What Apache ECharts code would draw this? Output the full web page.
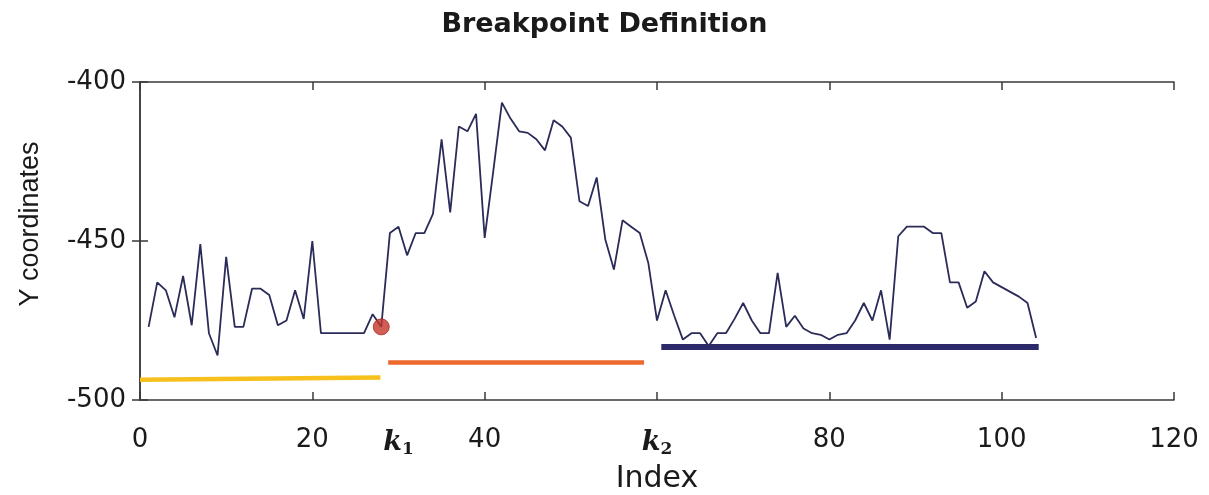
<!DOCTYPE html>
<html style="height: 100%">
<head>
    <meta charset="UTF-8">
    <script src="https://cdn.jsdelivr.net/npm/echarts/dist/echarts.min.js"></script>
    <style type="text/css">
        html, body { margin: 0; padding: 0; background: #ffffff; }
    </style>
</head>
<body>
    <div id="paint" style="width: 1209px; height: 495px;"></div>
<script>
    // index along the track
    var indexValues = [1, 2, 3, 4, 5, 6, 7, 8, 9, 10, 11, 12, 13, 14, 15, 16, 17, 18, 19, 20,
        21, 22, 23, 24, 25, 26, 27, 28, 29, 30, 31, 32, 33, 34, 35, 36, 37, 38, 39, 40,
        41, 42, 43, 44, 45, 46, 47, 48, 49, 50, 51, 52, 53, 54, 55, 56, 57, 58, 59, 60,
        61, 62, 63, 64, 65, 66, 67, 68, 69, 70, 71, 72, 73, 74, 75, 76, 77, 78, 79, 80,
        81, 82, 83, 84, 85, 86, 87, 88, 89, 90, 91, 92, 93, 94, 95, 96, 97, 98, 99, 100,
        101, 102, 103, 104];
    // y coordinates
    var yCoords = [-477, -463, -465.5, -474, -461, -476.5, -451, -479, -486, -455,
        -477, -477, -465, -465, -467, -476.5, -475, -465.5, -474.5, -450,
        -479, -479, -479, -479, -479, -479, -473, -477, -447.5, -445.5,
        -454.5, -447.5, -447.5, -441.5, -418, -441, -414, -415.5, -410, -449,
        -428, -406.5, -411.5, -415.5, -416, -418, -421.5, -412, -414, -417.5,
        -437.5, -439, -430, -449.5, -459, -443.5, -445.5, -447.5, -457, -475,
        -465.5, -473.5, -481, -479, -479, -483, -479, -479, -474.5, -469.5,
        -475, -479, -479, -460, -477, -473.5, -477.5, -479, -479.5, -481,
        -479.5, -479, -475, -469.5, -475, -465.5, -481, -448.5, -445.5, -445.5,
        -445.5, -447.5, -447.5, -463, -463, -471, -469, -459.5, -463, -464.5,
        -466, -467.5, -469.5, -480.5];

    // breakpoint k1
    var breakPoint = [28, -477];
    // segment levels [x, y] start / end
    var segYellow = [[0, -493.6], [27.9, -492.9]];
    var segOrange = [[28.8, -488.2], [58.5, -488.2]];
    var segNavy = [[60.5, -483.3], [104.3, -483.3]];

    var xTicks = {min: 0, max: 120, interval: 20};
    var yTicks = {min: -500, max: -400, interval: 50};
    var k1At = 30, k2At = 60;

    var lineData = indexValues.map(function (x, i) { return [x, yCoords[i]]; });

    var kRich = {
        k: {fontFamily: 'DejaVu Serif', fontStyle: 'italic', fontWeight: 'bold', fontSize: 27, color: '#1a1a1a'},
        s: {fontFamily: 'DejaVu Serif', fontWeight: 'bold', fontSize: 17, color: '#1a1a1a', padding: [14, 0, 0, 0]}
    };
    var axisColor = '#3a3a3a';
    var labelStyle = {fontFamily: 'DejaVu Sans', fontSize: 26, color: '#1a1a1a'};

    var chart = echarts.init(document.getElementById('paint'));
    chart.setOption({
        backgroundColor: '#ffffff',
        animation: false,
        title: {
            text: 'Breakpoint Definition',
            left: 'center',
            top: 6,
            textStyle: {fontFamily: 'DejaVu Sans', fontSize: 27, fontWeight: 'bold', color: '#1a1a1a'}
        },
        grid: {left: 140, right: 35, top: 82, bottom: 95, containLabel: false, outerBoundsMode: 'none'},
        xAxis: [
            {
                type: 'value', position: 'bottom',
                min: xTicks.min, max: xTicks.max, interval: xTicks.interval,
                name: 'Index', nameLocation: 'middle', nameGap: 64,
                nameTextStyle: {fontFamily: 'DejaVu Sans', fontSize: 30, color: '#1a1a1a'},
                axisLine: {lineStyle: {color: axisColor, width: 1.5}},
                axisTick: {inside: true, length: 8, lineStyle: {color: axisColor, width: 1.5}},
                splitLine: {show: false},
                axisLabel: Object.assign({
                    margin: 27,
                    rich: kRich,
                    formatter: function (v) {
                        if (v === k2At) return '{k|k}{s|2}';
                        return v;
                    }
                }, labelStyle)
            },
            {
                type: 'value', position: 'top',
                min: xTicks.min, max: xTicks.max, interval: xTicks.interval,
                axisLine: {lineStyle: {color: axisColor, width: 1.5}},
                axisTick: {inside: true, length: 8, lineStyle: {color: axisColor, width: 1.5}},
                axisLabel: {show: false},
                splitLine: {show: false}
            },
            {
                // k1 label only, no tick
                type: 'value', position: 'bottom',
                min: xTicks.min, max: xTicks.max, interval: 30,
                axisLine: {show: false},
                axisTick: {show: false},
                splitLine: {show: false},
                axisLabel: Object.assign({
                    margin: 27,
                    rich: kRich,
                    showMinLabel: false, showMaxLabel: false,
                    formatter: function (v) {
                        if (v === k1At) return '{k|k}{s|1}';
                        return '';
                    }
                }, labelStyle)
            }
        ],
        yAxis: [
            {
                type: 'value', position: 'left',
                min: yTicks.min, max: yTicks.max, interval: yTicks.interval,
                name: 'Y coordinates', nameLocation: 'middle', nameGap: 96,
                nameTextStyle: {fontFamily: 'Liberation Sans', fontSize: 27, color: '#1a1a1a', padding: [0, 0, 0, 34]},
                axisLine: {show: true, lineStyle: {color: axisColor, width: 1.5}},
                axisTick: {show: true, inside: true, length: 8, lineStyle: {color: axisColor, width: 1.5}},
                splitLine: {show: false},
                axisLabel: Object.assign({margin: 14}, labelStyle)
            },
            {
                type: 'value', position: 'right',
                min: yTicks.min, max: yTicks.max, interval: yTicks.interval,
                axisLine: {show: true, lineStyle: {color: axisColor, width: 1.5}},
                axisTick: {show: true, inside: true, length: 8, lineStyle: {color: axisColor, width: 1.5}},
                axisLabel: {show: false},
                splitLine: {show: false}
            }
        ],
        series: [
            {
                type: 'line', data: segYellow, symbol: 'none',
                lineStyle: {color: '#F7C01C', width: 4.5}
            },
            {
                type: 'line', data: segOrange, symbol: 'none',
                lineStyle: {color: '#EC6A2E', width: 4.5}
            },
            {
                type: 'line', data: segNavy, symbol: 'none',
                lineStyle: {color: '#2C2A6B', width: 6}
            },
            {
                type: 'line', data: lineData, symbol: 'none',
                lineStyle: {color: '#2A2B58', width: 1.8}
            },
            {
                type: 'scatter', data: [breakPoint], symbolSize: 16, z: 5,
                itemStyle: {color: '#C4362A', borderColor: '#A82A20', borderWidth: 1}
            }
        ]
    });
</script>
</body>
</html>
